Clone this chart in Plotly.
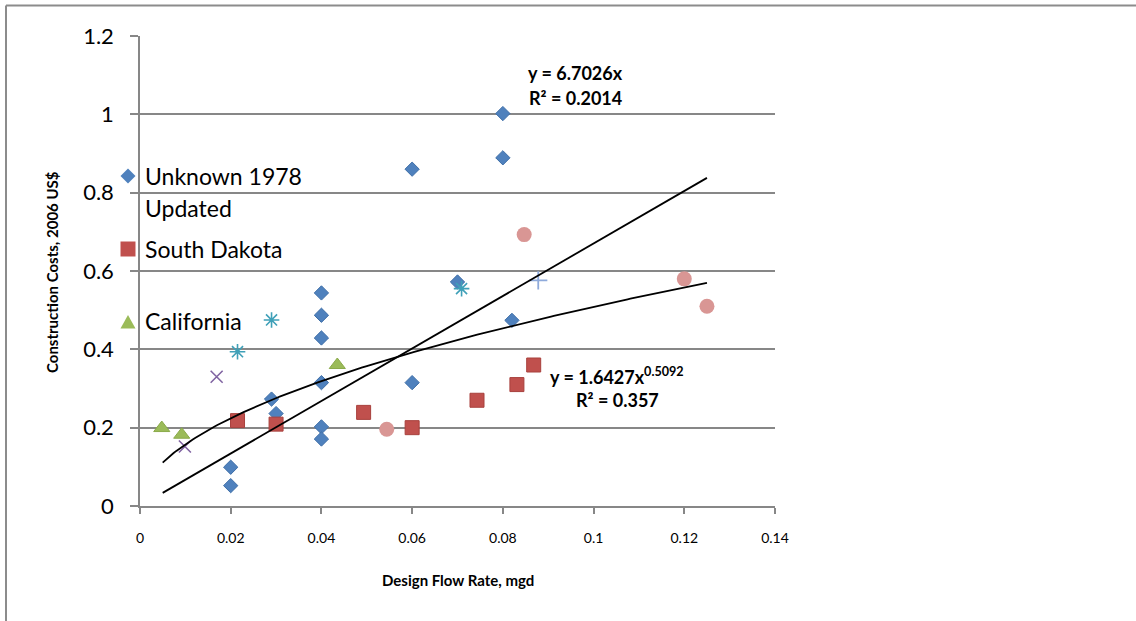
import numpy as np
import plotly.graph_objects as go

# ---- data: design flow (mgd) vs construction cost (2006 US$) ----
unknown_x = [0.020, 0.020, 0.029, 0.030, 0.040, 0.040, 0.040, 0.040, 0.040, 0.040,
             0.060, 0.060, 0.070, 0.080, 0.080, 0.082]
unknown_y = [0.099, 0.052, 0.273, 0.236, 0.544, 0.487, 0.429, 0.315, 0.202, 0.171,
             0.315, 0.860, 0.572, 1.002, 0.889, 0.474]

dakota_x = [0.0215, 0.030, 0.0493, 0.060, 0.0743, 0.0831, 0.0868]
dakota_y = [0.218, 0.209, 0.239, 0.200, 0.270, 0.310, 0.360]

california_x = [0.0048, 0.0092, 0.0435]
california_y = [0.199, 0.182, 0.360]

source4_x = [0.0099, 0.0169]
source4_y = [0.152, 0.330]

source5_x = [0.0215, 0.0290, 0.0709]
source5_y = [0.394, 0.475, 0.555]

source6_x = [0.0544, 0.0847, 0.120, 0.125]
source6_y = [0.196, 0.693, 0.580, 0.510]

source7_x = [0.0878]
source7_y = [0.576]

# fitted trendlines
lin_slope, lin_r2 = 6.7026, 0.2014
pow_coef, pow_exp, pow_r2 = 1.6427, 0.5092, 0.357
fit_min, fit_max = 0.005, 0.125

x_ticks = [0, 0.02, 0.04, 0.06, 0.08, 0.1, 0.12, 0.14]
x_tick_text = ["0", "0.02", "0.04", "0.06", "0.08", "0.1", "0.12", "0.14"]
y_ticks = [0, 0.2, 0.4, 0.6, 0.8, 1.0, 1.2]
y_tick_text = ["0", "0.2", "0.4", "0.6", "0.8", "1", "1.2"]

# ---- page geometry (pixels) ----
W, H = 1136, 621
PL, PR, PT, PB = 140, 775, 36, 506   # plot-area edges

def px(xp):
    return (xp - PL) / (PR - PL)

def py(yp):
    return (PB - yp) / (PB - PT)

FONT = "Lato, 'Open Sans', sans-serif"
GRID = "#878787"

BLUE = "#4F81BD"
RED = "#C0504D"
GREEN = "#9BBB59"
PURPLE = "#8064A2"
TEAL = "#4BACC6"
PINK = "#D99694"
LBLUE = "#8EAADB"

fig = go.Figure()

fig.add_trace(go.Scatter(
    x=unknown_x, y=unknown_y, mode="markers", name="Unknown 1978 Updated",
    marker=dict(symbol="diamond", size=11, color=BLUE, line=dict(color="#3F6FA8", width=1))))
fig.add_trace(go.Scatter(
    x=dakota_x, y=dakota_y, mode="markers", name="South Dakota",
    marker=dict(symbol="square", size=14, color=RED, line=dict(color="#A8403D", width=1))))
fig.add_trace(go.Scatter(
    x=california_x, y=california_y, mode="markers", name="California",
    marker=dict(symbol="triangle-up", size=14, color=GREEN, line=dict(color="#8AAA4A", width=1))))
fig.add_trace(go.Scatter(
    x=source4_x, y=source4_y, mode="markers", name="Source 4",
    marker=dict(symbol="x-thin-open", size=12, color=PURPLE, line=dict(color=PURPLE, width=1.6))))
fig.add_trace(go.Scatter(
    x=source5_x, y=source5_y, mode="markers", name="Source 5",
    marker=dict(symbol="asterisk-open", size=13, color="#3FA0B8", line=dict(color="#3FA0B8", width=1.6))))
fig.add_trace(go.Scatter(
    x=source6_x, y=source6_y, mode="markers", name="Source 6",
    marker=dict(symbol="circle", size=15, color=PINK)))
fig.add_trace(go.Scatter(
    x=source7_x, y=source7_y, mode="markers", name="Source 7",
    marker=dict(symbol="cross-thin-open", size=13, color=LBLUE, line=dict(color=LBLUE, width=1.8))))

# trendlines drawn from their stated equations
lin_x = np.array([fit_min, fit_max])
fig.add_trace(go.Scatter(x=lin_x, y=lin_slope * lin_x, mode="lines", name="Linear fit",
                         line=dict(color="black", width=1.8)))
pow_x = np.linspace(fit_min, fit_max, 200)
fig.add_trace(go.Scatter(x=pow_x, y=pow_coef * pow_x ** pow_exp, mode="lines", name="Power fit",
                         line=dict(color="black", width=1.8)))

def path_px(points):
    return "M " + " L ".join(f"{px(a):.5f},{py(b):.5f}" for a, b in points) + " Z"

# legend keys, drawn as small shapes left of the axis
shapes = [
    dict(type="path", xref="paper", yref="paper", fillcolor=BLUE, line=dict(width=0),
         path=path_px([(128, 168.5), (135.5, 176), (128, 183.5), (120.5, 176)])),
    dict(type="path", xref="paper", yref="paper", fillcolor=RED, line=dict(width=0),
         path=path_px([(120.5, 241.5), (135.5, 241.5), (135.5, 256.5), (120.5, 256.5)])),
    dict(type="path", xref="paper", yref="paper", fillcolor=GREEN, line=dict(width=0),
         path=path_px([(128, 315), (135.5, 328.5), (120.5, 328.5)])),
    # chart-area frame (top and left edges)
    dict(type="line", xref="paper", yref="paper", x0=px(6), x1=px(1136), y0=py(5.5), y1=py(5.5),
         line=dict(color="#8C8C8C", width=2)),
    dict(type="line", xref="paper", yref="paper", x0=px(6), x1=px(6), y0=py(5.5), y1=py(621),
         line=dict(color="#8C8C8C", width=2)),
]

legend_lines = [("Unknown 1978", 176), ("Updated", 208), ("South Dakota", 249), ("California", 321)]

def label(x, y, text, size, **kw):
    d = dict(x=px(x), y=py(y), xref="paper", yref="paper", text=text, showarrow=False,
             xanchor="center", yanchor="middle",
             font=dict(family=FONT, size=size, color="black"))
    d.update(kw)
    return d

annotations = [label(143, yp, txt, 23, xanchor="left") for txt, yp in legend_lines]
annotations += [
    label(575, 73, f"<b>y = {lin_slope}x</b>", 18),
    label(575, 98, f"<b>R² = {lin_r2}</b>", 18),
    label(617, 376, f"<b>y = {pow_coef}x<sup>{pow_exp}</sup></b>", 18),
    label(617, 400, f"<b>R² = {pow_r2}</b>", 18),
    label(458, 580, "<b>Design Flow Rate, mgd</b>", 15),
    label(52, 272, "<b>Construction Costs, 2006 US$</b>", 15, textangle=-90),
]

fig.update_layout(
    width=W, height=H,
    margin=dict(l=PL, r=W - PR, t=PT, b=H - PB, pad=0),
    paper_bgcolor="white", plot_bgcolor="white",
    showlegend=False,
    font=dict(family=FONT, color="black"),
    annotations=annotations,
    shapes=shapes,
    xaxis=dict(range=[0, 0.14], tickvals=x_ticks, ticktext=x_tick_text, showgrid=False,
               zeroline=False, showline=True, linecolor=GRID, linewidth=1.5,
               ticks="outside", ticklen=6, tickcolor=GRID, tickwidth=1.5,
               tickfont=dict(family=FONT, size=14, color="black"), ticklabelstandoff=12),
    yaxis=dict(range=[0, 1.2], tickvals=y_ticks, ticktext=y_tick_text, showgrid=True,
               gridcolor=GRID, gridwidth=1.5, zeroline=False, showline=True,
               linecolor=GRID, linewidth=1.5, ticks="outside", ticklen=8, tickcolor=GRID,
               tickwidth=1.5, tickfont=dict(family=FONT, size=22, color="black"),
               ticklabelstandoff=12),
)

fig.write_html("out.html")
